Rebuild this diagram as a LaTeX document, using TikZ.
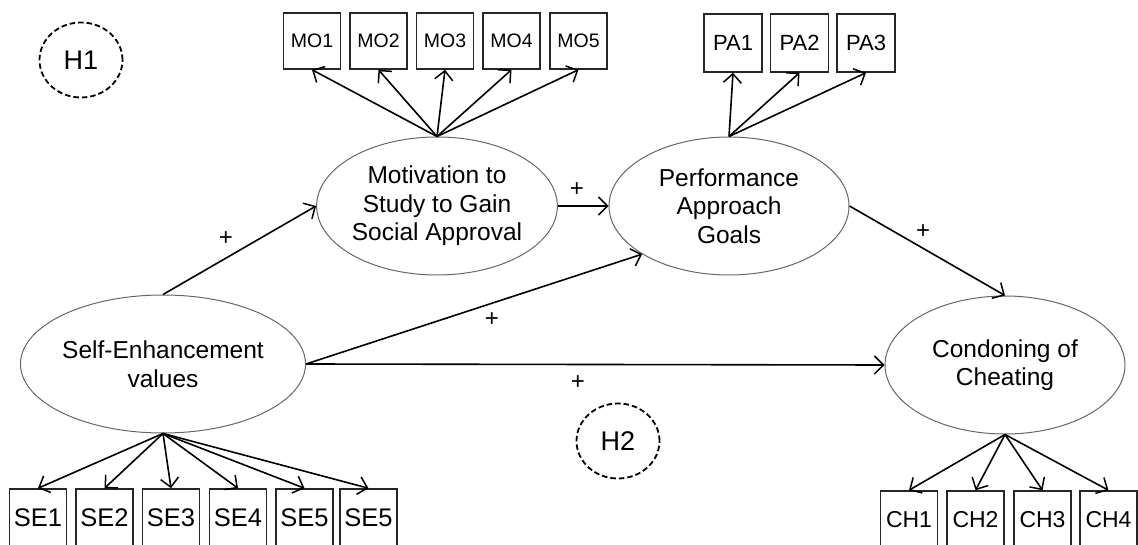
\documentclass[tikz,border=0pt]{standalone}
\usepackage{fontspec}
\setmainfont{Liberation Sans}
\usetikzlibrary{shapes.geometric,arrows.meta}
\begin{document}
\begin{tikzpicture}[x=1pt,y=-1pt]
        % Define styles
        \tikzset{
          latent/.style={ellipse, draw=black!60, line width=1pt, minimum width=240pt, minimum height=138pt,
                         inner sep=0pt, align=center, font=\fontsize{24.5}{28.5}\selectfont},
          item/.style={rectangle, draw=black!85, line width=1.5pt, minimum width=57pt, minimum height=57pt, inner sep=0pt},
          hypo/.style={ellipse, draw, dash pattern=on 5.5pt off 3pt, line width=1.8pt, minimum width=83pt,
                       minimum height=75pt, inner sep=0pt, font=\fontsize{27}{30}\selectfont},
          path/.style={line width=1.6pt, -{Straight Barb[length=9pt,width=18pt,line width=1.5pt]}},
          sign/.style={inner sep=0pt, font=\fontsize{24}{26}\selectfont}
        }
        \def\mosize{\fontsize{19.5}{21}\selectfont}
        \def\pasize{\fontsize{22}{24}\selectfont}
        \def\sesize{\fontsize{25.5}{27}\selectfont}
        \def\chsize{\fontsize{23}{25}\selectfont}
        
        \useasboundingbox (0,0) rectangle (1138,545);
        \clip (0,0) rectangle (1138,545);
        
        % Latent variables
        \node[latent] (se) at (163,364) {Self-Enhancement\\values};
        \node[latent] (mo) at (437,206) {Motivation to\\Study to Gain\\Social Approval};
        \node[latent] (pa) at (729,206) {Performance\\Approach\\Goals};
        \node[latent] (ch) at (1005,365) {Condoning of\\Cheating};
        
        % Hypotheses
        \node[hypo] (h1) at (81,60) {H1};
        \node[hypo] (h2) at (618,441) {H2};
        
        % Motivation items
        \node[item, minimum height=56pt, font=\mosize] (mo1) at (312,41) {MO1};
        \node[item, minimum height=56pt, font=\mosize] (mo2) at (378.5,41) {MO2};
        \node[item, minimum height=56pt, font=\mosize] (mo3) at (445,41) {MO3};
        \node[item, minimum height=56pt, font=\mosize] (mo4) at (511.5,41) {MO4};
        \node[item, minimum height=56pt, font=\mosize] (mo5) at (578.5,41) {MO5};
        
        % Performance approach items
        \node[item, minimum width=58pt, minimum height=58pt, font=\pasize] (pa1) at (733,43) {PA1};
        \node[item, minimum width=58pt, minimum height=58pt, font=\pasize] (pa2) at (799.5,43) {PA2};
        \node[item, minimum width=58pt, minimum height=58pt, font=\pasize] (pa3) at (866,43) {PA3};
        
        % Self-enhancement items
        \node[item, minimum height=58pt, font=\sesize] (se1) at (38,518) {SE1};
        \node[item, minimum height=58pt, font=\sesize] (se2) at (104.5,518) {SE2};
        \node[item, minimum height=58pt, font=\sesize] (se3) at (171,518) {SE3};
        \node[item, minimum height=58pt, font=\sesize] (se4) at (238,518) {SE4};
        \node[item, minimum height=58pt, font=\sesize] (se5) at (304.5,518) {SE5};
        \node[item, minimum height=58pt, font=\sesize] (se6) at (368.5,518) {SE5};
        
        % Cheating items
        \node[item, minimum height=58pt, font=\chsize] (ch1) at (909,520) {CH1};
        \node[item, minimum height=58pt, font=\chsize] (ch2) at (975.5,520) {CH2};
        \node[item, minimum height=58pt, font=\chsize] (ch3) at (1042.5,520) {CH3};
        \node[item, minimum height=58pt, font=\chsize] (ch4) at (1108.5,520) {CH4};
        
        % Loadings
        \draw[path] (mo.north) -- (mo1.south);
        \draw[path] (mo.north) -- (mo2.south);
        \draw[path] (mo.north) -- (mo3.south);
        \draw[path] (mo.north) -- (mo4.south);
        \draw[path] (mo.north) -- (mo5.south);
        
        \draw[path] (pa.north) -- (pa1.south);
        \draw[path] (pa.north) -- (pa2.south);
        \draw[path] (pa.north) -- (pa3.south);
        
        \draw[path] (se.south) -- (se1.north);
        \draw[path] (se.south) -- (se2.north);
        \draw[path] (se.south) -- (se3.north);
        \draw[path] (se.south) -- (se4.north);
        \draw[path] (se.south) -- (se5.north);
        \draw[path] (se.south) -- (se6.north);
        
        \draw[path] (ch.south) -- (ch1.north);
        \draw[path] (ch.south) -- (ch2.north);
        \draw[path] (ch.south) -- (ch3.north);
        \draw[path] (ch.south) -- (ch4.north);
        
        % Structural paths
        \draw[path] (se.north) -- (mo.west);
        \draw[path] (mo.east) -- (pa.west);
        \draw[path] (se.east) -- (pa.209);
        \draw[path] (se.east) -- (ch.west);
        \draw[path] (pa.east) -- (ch.north);
        
        % Signs
        \node[sign] (s1) at (226,239) {+};
        \node[sign] (s2) at (577,190) {+};
        \node[sign] (s3) at (492,320) {+};
        \node[sign] (s4) at (578,383) {+};
        \node[sign] (s5) at (923,232) {+};
    \end{tikzpicture}
\end{document}
